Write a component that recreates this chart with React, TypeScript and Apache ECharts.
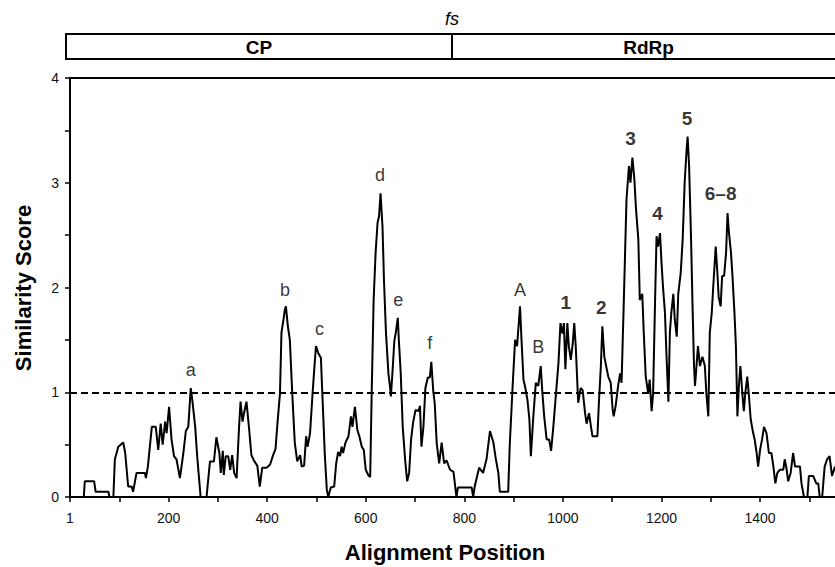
import React, { useEffect, useRef } from "react";
import * as echarts from "echarts";

const alignmentPositions = [
  0, 28, 30, 49, 52, 78, 80, 88, 91, 98, 108, 112, 118, 125, 128, 135, 152, 154, 158, 166, 174, 179, 184, 188, 193, 196,
  201, 206, 211, 216, 223, 230, 235, 240, 245, 249, 254, 258, 265, 277, 284, 292, 297, 303, 306, 310, 312, 316, 321, 325,
  329, 333, 338, 343, 346, 350, 353, 358, 363, 368, 374, 380, 385, 390, 399, 406, 412, 417, 421, 426, 429, 433, 436, 438,
  442, 446, 451, 456, 461, 467, 470, 475, 479, 482, 487, 492, 496, 499, 504, 509, 512, 517, 521, 524, 529, 536, 540, 544,
  548, 551, 554, 559, 565, 570, 573, 578, 583, 587, 592, 596, 600, 605, 609, 612, 616, 620, 624, 627, 630, 634, 637, 641,
  646, 649, 651, 655, 658, 661, 665, 667, 671, 675, 680, 684, 688, 692, 696, 701, 707, 710, 713, 717, 721, 726, 730, 733,
  737, 740, 744, 749, 754, 759, 764, 771, 778, 784, 787, 815, 818, 821, 830, 838, 845, 852, 859, 864, 869, 872, 889, 892,
  898, 903, 907, 913, 916, 920, 923, 928, 932, 935, 940, 945, 950, 955, 958, 962, 967, 972, 976, 980, 985, 991, 995, 999,
  1002, 1005, 1009, 1012, 1016, 1020, 1023, 1026, 1031, 1036, 1040, 1045, 1048, 1053, 1057, 1060, 1070, 1073, 1077, 1080,
  1084, 1089, 1092, 1097, 1101, 1103, 1107, 1112, 1116, 1119, 1124, 1129, 1134, 1137, 1141, 1145, 1148, 1153, 1156, 1161,
  1164, 1168, 1173, 1176, 1180, 1183, 1187, 1190, 1193, 1197, 1200, 1203, 1207, 1210, 1214, 1217, 1220, 1224, 1227, 1231,
  1234, 1239, 1243, 1247, 1251, 1253, 1256, 1260, 1263, 1266, 1268, 1271, 1274, 1278, 1283, 1288, 1291, 1295, 1298, 1302,
  1305, 1310, 1313, 1316, 1320, 1323, 1327, 1331, 1334, 1337, 1341, 1344, 1348, 1351, 1354, 1357, 1360, 1364, 1367, 1370,
  1374, 1377, 1381, 1386, 1389, 1393, 1396, 1400, 1404, 1408, 1413, 1418, 1423, 1427, 1431, 1435, 1440, 1447, 1450, 1454,
  1457, 1462, 1467, 1471, 1481, 1484, 1489, 1496, 1499, 1508, 1514, 1518, 1521, 1526, 1531, 1536, 1541, 1546, 1552,
];

const similarityScores = [
  0, 0, 0.15, 0.15, 0.05, 0.05, 0, 0, 0.36, 0.48, 0.52, 0.42, 0.1, 0.1, 0.05, 0.23, 0.23, 0.18, 0.29, 0.67, 0.67, 0.45,
  0.7, 0.5, 0.72, 0.61, 0.86, 0.55, 0.39, 0.36, 0.18, 0.42, 0.63, 0.67, 1.04, 0.89, 0.67, 0.39, 0, 0, 0.34, 0.34, 0.57,
  0.42, 0.23, 0.44, 0.21, 0.39, 0.39, 0.26, 0.4, 0.23, 0.18, 0.67, 0.91, 0.72, 0.8, 0.91, 0.67, 0.4, 0.34, 0.3, 0.1, 0.28,
  0.28, 0.31, 0.4, 0.46, 0.71, 0.99, 1.57, 1.69, 1.79, 1.82, 1.63, 1.5, 0.98, 0.52, 0.34, 0.4, 0.29, 0.3, 0.58, 0.48,
  0.61, 0.98, 1.25, 1.44, 1.37, 1.33, 0.98, 0.4, 0.07, 0, 0.09, 0.1, 0.32, 0.43, 0.39, 0.48, 0.42, 0.52, 0.58, 0.77, 0.67,
  0.86, 0.64, 0.58, 0.48, 0.45, 0.26, 0.21, 0.19, 0.98, 1.88, 2.33, 2.62, 2.68, 2.9, 2.58, 2.07, 1.57, 1.18, 1.06, 0.96,
  1.25, 1.49, 1.57, 1.71, 1.51, 1.18, 0.67, 0.35, 0.15, 0.23, 0.55, 0.71, 0.83, 0.82, 0.87, 0.48, 0.67, 1.04, 1.14, 1.14,
  1.29, 1.01, 0.89, 0.51, 0.32, 0.52, 0.32, 0.35, 0.26, 0.24, 0, 0.09, 0.09, 0, 0.1, 0.28, 0.23, 0.36, 0.63, 0.52, 0.36,
  0.23, 0.05, 0.05, 0.48, 1.06, 1.5, 1.44, 1.82, 1.5, 1.12, 1.06, 0.93, 0.74, 0.39, 0.77, 1.09, 1.06, 1.25, 1.02, 0.77,
  0.55, 0.55, 0.44, 0.64, 0.93, 1.28, 1.66, 1.56, 1.66, 1.22, 1.66, 1.44, 1.31, 1.47, 1.66, 1.44, 0.9, 1.04, 1.02, 0.8,
  0.7, 0.8, 0.67, 0.58, 0.58, 0.9, 1.25, 1.63, 1.34, 1.22, 1.15, 1.09, 0.83, 0.77, 0.87, 1.06, 1.18, 1.09, 1.95, 2.84,
  3.16, 3.0, 3.24, 3.03, 2.77, 2.46, 1.88, 1.94, 1.57, 1.15, 0.99, 1.12, 0.82, 0.99, 1.88, 2.49, 2.39, 2.52, 2.24, 2.01,
  1.76, 1.37, 0.91, 1.57, 1.76, 1.94, 1.69, 1.53, 1.94, 2.14, 2.46, 3.0, 3.32, 3.44, 3.16, 2.46, 1.82, 1.25, 1.06, 1.25,
  1.44, 1.25, 1.34, 1.25, 0.99, 0.77, 1.57, 1.76, 2.01, 2.39, 2.17, 1.91, 1.82, 2.11, 2.11, 2.33, 2.71, 2.52, 2.33, 2.11,
  1.76, 1.44, 0.77, 1.06, 1.25, 0.99, 0.82, 0.99, 1.15, 0.99, 0.74, 0.61, 0.55, 0.42, 0.29, 0.45, 0.55, 0.67, 0.61, 0.42,
  0.42, 0.29, 0.13, 0.23, 0.26, 0.26, 0.36, 0.26, 0.15, 0.23, 0.42, 0.29, 0.29, 0.13, 0, 0, 0.2, 0.2, 0.13, 0.13, 0, 0,
  0.29, 0.36, 0.39, 0.2, 0.29,
];

// peak annotations
const peakLabels = ["a", "b", "c", "d", "e", "f", "A", "B", "1", "2", "3", "4", "5", "6–8"];
const peakLabelPositions = [245, 436, 506, 629, 666, 730, 913, 950, 1006, 1078, 1137, 1192, 1252, 1320];
const peakLabelScores = [1.21, 1.98, 1.6, 3.07, 1.88, 1.47, 1.98, 1.43, 1.86, 1.81, 3.42, 2.71, 3.61, 2.9];
const peakLabelBold = [false, false, false, false, false, false, false, false, true, true, true, true, true, true];

const xTickLabels = ["1", "200", "400", "600", "800", "1000", "1200", "1400"];
const yTickLabels = ["0", "1", "2", "3", "4"];
const threshold = 1;
const cpEnd = 775;
const xMax = 1552;

const FONT = "'Liberation Sans', Arial, Helvetica, sans-serif";
const INK = "#000";

export default function App() {
  const ref = useRef<HTMLDivElement>(null);

  useEffect(() => {
    document.body.style.margin = "0";
    if (!ref.current) return;
    const chart = echarts.init(ref.current, null, { renderer: "svg" });

    const lineData = alignmentPositions.map((p, i) => [p, similarityScores[i]]);
    const labelData = peakLabels.map((t, i) => ({
      name: t,
      value: [peakLabelPositions[i], peakLabelScores[i]],
      label: {
        color: INK,
        fontWeight: peakLabelBold[i] ? "bold" : "normal",
        fontSize: peakLabelBold[i] ? 19 : 18,
      },
    }));

    const grid = { left: 70, top: 78, width: 765, height: 419 };

    chart.setOption({
      animation: false,
      grid: { ...grid, containLabel: false },
      xAxis: [
        {
          type: "value",
          min: 0,
          max: xMax,
          interval: 100,
          axisLine: { show: true, onZero: false, lineStyle: { color: INK, width: 2 } },
          axisTick: { show: true, inside: false, length: 5, lineStyle: { color: INK, width: 1.5 } },
          splitLine: { show: false },
          axisLabel: {
            show: true,
            margin: 14,
            fontSize: 14,
            fontFamily: FONT,
            color: "#111",
            showMaxLabel: false,
            formatter: (v: number) => {
              if (v === 0) return xTickLabels[0];
              if (v % 200 === 0) {
                const s = String(v);
                return xTickLabels.indexOf(s) >= 0 ? s : "";
              }
              return "";
            },
          },
        },
        {
          type: "value",
          position: "top",
          min: 0,
          max: xMax,
          axisLine: { show: true, onZero: false, lineStyle: { color: INK, width: 2 } },
          axisTick: { show: false },
          axisLabel: { show: false },
          splitLine: { show: false },
        },
      ],
      yAxis: {
        type: "value",
        min: 0,
        max: 4,
        interval: 0.5,
        axisLine: { show: true, lineStyle: { color: INK, width: 2 } },
        axisTick: { show: true, inside: false, length: 5, lineStyle: { color: INK, width: 1.5 } },
        splitLine: { show: false },
        axisLabel: {
          margin: 11,
          fontSize: 14,
          fontFamily: FONT,
          color: "#111",
          formatter: (v: number) => {
            const s = String(v);
            return yTickLabels.indexOf(s) >= 0 ? s : "";
          },
        },
      },
      series: [
        {
          type: "line",
          data: lineData,
          xAxisIndex: 0,
          symbol: "none",
          lineStyle: { color: INK, width: 2 },
          markLine: {
            silent: true,
            symbol: ["none", "none"],
            label: { show: false },
            lineStyle: { color: INK, width: 2, type: [7, 4] },
            data: [{ yAxis: threshold }],
          },
          z: 3,
        },
        {
          type: "scatter",
          xAxisIndex: 0,
          symbolSize: 0,
          itemStyle: { color: INK },
          data: labelData,
          label: {
            show: true,
            position: [0, 0],
            align: "center",
            verticalAlign: "middle",
            formatter: "{b}",
            color: INK,
            textBorderWidth: 0,
            fontFamily: FONT,
            fontSize: 18,
          },
          z: 4,
        },
      ],
    });

    const dividerX = chart.convertToPixel({ xAxisIndex: 0 }, cpEnd) as number;
    const boxLeft = 66;
    const boxTop = 34;
    const boxH = 25;
    const boxRight = 840;

    chart.setOption({
      graphic: [
        {
          type: "rect",
          shape: { x: boxLeft, y: boxTop, width: boxRight - boxLeft, height: boxH },
          style: { fill: "none", stroke: INK, lineWidth: 2 },
        },
        {
          type: "line",
          shape: { x1: dividerX, y1: boxTop, x2: dividerX, y2: boxTop + boxH },
          style: { stroke: INK, lineWidth: 2 },
        },
        {
          type: "text",
          x: (boxLeft + dividerX) / 2,
          y: boxTop + boxH / 2 + 1,
          style: { text: "CP", fontSize: 19, fontWeight: "bold", fontFamily: FONT, fill: INK, align: "center", verticalAlign: "middle" },
        },
        {
          type: "text",
          x: (dividerX + 835) / 2 + 5,
          y: boxTop + boxH / 2 + 1,
          style: { text: "RdRp", fontSize: 19, fontWeight: "bold", fontFamily: FONT, fill: INK, align: "center", verticalAlign: "middle" },
        },
        {
          type: "text",
          x: dividerX,
          y: 19,
          style: { text: "fs", fontSize: 18, fontStyle: "italic", fontFamily: FONT, fill: INK, align: "center", verticalAlign: "middle" },
        },
        {
          type: "text",
          x: 445,
          y: 552,
          style: { text: "Alignment Position", fontSize: 22, fontWeight: "bold", fontFamily: FONT, fill: INK, align: "center", verticalAlign: "middle" },
        },
        {
          type: "text",
          x: 23,
          y: 288,
          rotation: Math.PI / 2,
          style: { text: "Similarity Score", fontSize: 22, fontWeight: "bold", fontFamily: FONT, fill: INK, align: "center", verticalAlign: "middle" },
        },
      ],
    });

    return () => chart.dispose();
  }, []);

  return <div ref={ref} style={{ width: 835, height: 567 }} />;
}
